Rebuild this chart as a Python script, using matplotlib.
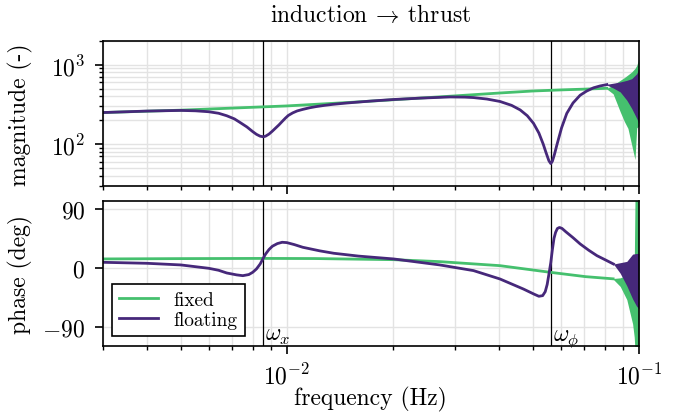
import matplotlib
matplotlib.use("Agg")
import matplotlib.pyplot as plt
from matplotlib.ticker import FixedLocator, NullFormatter

# Schrift wie LaTeX (Computer Modern)
plt.rcParams["font.family"] = "serif"
plt.rcParams["font.serif"] = ["cmr10"]
plt.rcParams["mathtext.fontset"] = "cm"
plt.rcParams["axes.formatter.use_mathtext"] = True
plt.rcParams["font.size"] = 8.5

green = "#45c06e"
purple = "#46287a"

# Eigenfrequenzen
w_x = 0.00857
w_phi = 0.0562

# Amplitude, fest
f_mag_fixed = [0.003, 0.005, 0.0075, 0.01, 0.015, 0.02, 0.03, 0.04, 0.05, 0.06, 0.07, 0.0811]
mag_fixed = [250, 268, 288, 303, 335, 362, 405, 440, 467, 482, 493, 505]

# Amplitude, schwimmend
f_mag_float = [0.003, 0.004, 0.005, 0.0055, 0.006, 0.0064, 0.00675, 0.0071, 0.00736, 0.0077,
               0.008, 0.0082, 0.0084, 0.00857, 0.0087, 0.0089, 0.0091, 0.0093, 0.0095, 0.0097,
               0.0099, 0.0101, 0.0104, 0.0107, 0.0111, 0.0116, 0.0121, 0.0128, 0.0135, 0.0145,
               0.01545, 0.0175, 0.0201, 0.024, 0.0291, 0.032, 0.0339, 0.037, 0.0403, 0.0435,
               0.046, 0.0482, 0.0502, 0.052, 0.0535, 0.0545, 0.0555, 0.0562, 0.0568, 0.0576,
               0.0585, 0.0603, 0.0624, 0.065, 0.0681, 0.071, 0.0743, 0.0775, 0.0811]
mag_float = [250, 261, 266, 263, 256, 245, 228, 208, 188, 165,
             144, 133, 126, 124, 126, 134, 146, 160, 175, 193,
             212, 230, 248, 262, 274, 287, 297, 308, 317, 327,
             335, 350, 365, 380, 393, 391, 386, 370, 345, 308,
             270, 228, 183, 138, 100, 78, 62, 57, 61, 75,
             98, 160, 244, 330, 413, 465, 512, 540, 562]

# Oszillationsband bei hohen Frequenzen (Einhuellende)
f_band_mag_fixed = [0.0811, 0.0845, 0.0885, 0.0910, 0.0931, 0.0954, 0.0975, 0.0986, 0.1]
mag_fixed_hi = [505, 552, 636, 690, 745, 811, 900, 980, 1190]
mag_fixed_lo = [495, 430, 256, 192, 158, 98, 64, 160, 170]

f_band_mag_float = [0.0811, 0.0845, 0.0885, 0.0924, 0.0954, 0.0986, 0.1]
mag_float_hi = [568, 585, 607, 636, 667, 770, 890]
mag_float_lo = [556, 510, 455, 358, 282, 211, 183]

# Phase, fest
f_ph_fixed = [0.003, 0.005, 0.0085, 0.012, 0.0201, 0.0272, 0.0403, 0.056, 0.0706, 0.0845]
ph_fixed = [13.7, 14.2, 14.5, 14.3, 12.6, 9.6, 3.5, -6.6, -13.2, -16.5]

# Phase, schwimmend
f_ph_float = [0.003, 0.004, 0.005, 0.006, 0.0064, 0.00675, 0.0072, 0.0075, 0.0078, 0.008,
              0.0082, 0.0084, 0.00857, 0.0087, 0.0089, 0.0091, 0.0094, 0.0097, 0.01, 0.0105,
              0.0111, 0.0124, 0.0136, 0.016, 0.0201, 0.0272, 0.0339, 0.0403, 0.047, 0.0505,
              0.052, 0.0533, 0.0542, 0.0549, 0.0555, 0.0562, 0.0568, 0.0574, 0.058, 0.0587,
              0.0595, 0.0605, 0.062, 0.065, 0.0681, 0.072, 0.076, 0.0805, 0.0847]
ph_float = [8.6, 7.1, 4.6, -0.5, -3.5, -7.6, -10.5, -11.7, -10, -6.6,
            -1.5, 6, 14.7, 21, 28, 33, 37, 39, 38.5, 35.5,
            31.4, 26, 22.3, 18, 13.7, 4.6, -4, -16.7, -32, -40,
            -43, -42, -36, -25, -10, 8, 28, 45, 54, 60,
            61.5, 60, 55, 46, 36.5, 27, 18.7, 12, 6]

f_band_ph_fixed = [0.0845, 0.0885, 0.0924, 0.0960, 0.0970, 0.0975, 0.1]
ph_fixed_hi = [-16, -15, -11, -5, 0, 105, 105]
ph_fixed_lo = [-17, -28, -48, -85, -105, -125, -125]

f_band_ph_float = [0.0847, 0.0885, 0.0924, 0.0960, 0.0985, 0.1]
ph_float_hi = [6, 8, 10, 21, 22, 22]
ph_float_lo = [6, -8, -27, -47, -58, -62]

fig = plt.figure(figsize=(3.415, 2.07), dpi=200)
ax1 = fig.add_axes([0.1504, 0.549, 0.785, 0.350])
ax2 = fig.add_axes([0.1504, 0.1626, 0.785, 0.350], sharex=ax1)

lw = 1.0
for ax in (ax1, ax2):
    ax.set_xscale("log")
    ax.axvline(w_x, color="k", lw=0.45, zorder=1.5)
    ax.axvline(w_phi, color="k", lw=0.45, zorder=1.5)
    ax.grid(True, which="both", axis="x", color="0.89", lw=0.5)
    for s in ax.spines.values():
        s.set_linewidth(0.6)
    ax.tick_params(which="major", length=2.8, width=0.6)
    ax.tick_params(which="minor", length=1.6, width=0.5)
    ax.set_axisbelow(True)

# Amplitude
ax1.plot(f_mag_fixed, mag_fixed, color=green, lw=lw, label="fixed")
ax1.fill_between(f_band_mag_fixed, mag_fixed_lo, mag_fixed_hi, color=green, lw=0)
ax1.plot(f_mag_float, mag_float, color=purple, lw=lw, label="floating")
ax1.fill_between(f_band_mag_float, mag_float_lo, mag_float_hi, color=purple, lw=0)
ax1.set_yscale("log")
ax1.set_ylim(30, 2000)
ax1.grid(True, which="both", axis="y", color="0.89", lw=0.5)
ax1.set_ylabel("magnitude (-)")
ax1.set_title(r"induction $\!\rightarrow\!$ thrust", fontsize=8.5, pad=7)
plt.setp(ax1.get_xticklabels(), visible=False)
ax1.yaxis.set_minor_formatter(NullFormatter())

# Phase
ax2.plot(f_ph_fixed, ph_fixed, color=green, lw=lw, label="fixed")
ax2.fill_between(f_band_ph_fixed, ph_fixed_lo, ph_fixed_hi, color=green, lw=0)
ax2.plot(f_ph_float, ph_float, color=purple, lw=lw, label="floating")
ax2.fill_between(f_band_ph_float, ph_float_lo, ph_float_hi, color=purple, lw=0)
ax2.set_ylim(-118, 102)
ax2.yaxis.set_major_locator(FixedLocator([-90, 0, 90]))
ax2.grid(True, which="major", axis="y", color="0.89", lw=0.5)
ax2.set_ylabel("phase (deg)")
ax2.set_xlabel("frequency (Hz)", labelpad=-1)
ax2.set_xlim(0.003, 0.1)
ax2.xaxis.set_minor_formatter(NullFormatter())

ax2.text(w_x * 1.012, -109, r"$\omega_x$", va="baseline", ha="left")
ax2.text(w_phi * 1.012, -109, r"$\omega_\phi$", va="baseline", ha="left")

leg = ax2.legend(loc="lower left", fontsize=7, fancybox=False, framealpha=1,
                 edgecolor="k", labelspacing=0.1, handlelength=2.0, borderpad=0.35)
leg.get_frame().set_linewidth(0.6)

for ax in (ax1, ax2):
    ax.yaxis.set_label_coords(-0.13, 0.5)

fig.savefig("out.png", dpi=200)
